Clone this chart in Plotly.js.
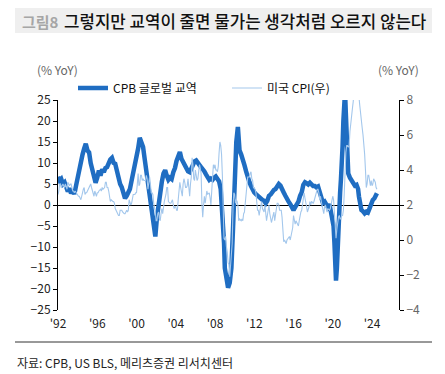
<!DOCTYPE html>
<html>
<head>
<meta charset="utf-8">
<script src="https://cdn.plot.ly/plotly-3.0.1.min.js"></script>
<style>
html,body{margin:0;padding:0;background:#fff;}
#chart{width:445px;height:374px;}
</style>
</head>
<body>
<div id="chart"></div>
<script>
// ---------------- DATA ----------------
// CPB world trade volume, % YoY (left axis), decimal-year dates
var cpbDates = [
1992.00,1992.17,1992.33,1992.50,1992.67,1992.83,
1993.00,1993.17,1993.33,1993.50,1993.67,1993.83,
1994.00,1994.17,1994.33,1994.50,1994.67,1994.83,
1995.00,1995.17,1995.33,1995.50,1995.67,1995.83,
1996.00,1996.17,1996.33,1996.50,1996.67,1996.83,
1997.00,1997.17,1997.33,1997.50,1997.67,1997.83,
1998.00,1998.17,1998.33,1998.50,1998.67,1998.83,
1999.00,1999.17,1999.33,1999.50,1999.67,1999.83,
2000.00,2000.17,2000.33,2000.50,2000.67,2000.83,
2001.00,2001.17,2001.33,2001.50,2001.67,2001.83,2001.92,
2002.08,2002.25,2002.42,2002.58,2002.75,2002.92,
2003.08,2003.25,2003.42,2003.58,2003.75,2003.92,
2004.08,2004.25,2004.42,2004.58,2004.75,2004.92,
2005.08,2005.25,2005.42,2005.58,2005.75,2005.92,
2006.08,2006.25,2006.42,2006.58,2006.75,2006.92,
2007.08,2007.25,2007.42,2007.58,2007.75,2007.92,
2008.08,2008.25,2008.42,2008.58,2008.75,2008.92,
2009.00,2009.17,2009.33,2009.50,2009.67,2009.83,
2010.00,2010.17,2010.33,2010.50,2010.67,2010.83,
2011.00,2011.17,2011.33,2011.50,2011.67,2011.83,
2012.00,2012.17,2012.33,2012.50,2012.67,2012.83,
2013.00,2013.17,2013.33,2013.50,2013.67,2013.83,
2014.00,2014.17,2014.33,2014.50,2014.67,2014.83,
2015.00,2015.17,2015.33,2015.50,2015.67,2015.83,
2016.00,2016.17,2016.33,2016.50,2016.67,2016.83,
2017.00,2017.17,2017.33,2017.50,2017.67,2017.83,
2018.00,2018.17,2018.33,2018.50,2018.67,2018.83,
2019.00,2019.17,2019.33,2019.50,2019.67,2019.83,
2020.00,2020.08,2020.17,2020.25,2020.33,2020.42,2020.50,2020.58,2020.67,2020.75,2020.83,2020.92,
2021.00,2021.08,2021.17,2021.25,2021.33,2021.42,2021.50,2021.58,2021.75,2021.92,
2022.08,2022.25,2022.42,2022.58,2022.67,2022.75,2022.92,
2023.08,2023.25,2023.42,2023.58,2023.75,2023.92,
2024.08,2024.25,2024.42,2024.50
];
var cpbTrade = [
6.7,5.8,6.2,5.0,5.4,4.2,
3.2,4.0,2.8,3.4,2.6,4.5,
6.5,9.0,11.0,12.0,13.5,14.6,
13.0,12.5,10.0,8.0,7.0,5.3,
6.5,8.2,7.0,8.5,7.8,8.8,
9.0,10.0,10.8,11.2,10.0,9.8,
8.0,6.5,5.0,4.2,2.5,1.6,
2.2,3.0,3.8,5.8,7.5,9.0,
11.0,13.5,16.0,15.0,13.8,11.0,
8.0,4.5,1.0,-1.5,-3.5,-6.0,-7.5,
-3.0,0.0,4.0,5.5,7.5,8.3,
7.0,6.0,6.5,6.2,7.8,8.8,
10.5,12.0,12.6,11.0,10.2,9.5,
8.5,8.0,7.8,8.8,9.5,10.4,
10.6,9.8,9.5,9.0,8.6,8.0,
7.3,6.5,6.0,6.3,6.0,6.5,
6.8,6.2,5.6,3.8,-1.0,-9.0,
-15.0,-18.0,-19.7,-18.5,-15.0,-6.0,
8.0,15.0,18.6,13.0,12.0,11.0,
9.5,8.0,6.5,5.5,4.5,3.4,
3.0,2.6,2.2,1.8,1.4,1.2,
1.0,0.4,1.0,2.2,2.5,3.2,
3.6,3.8,4.5,5.0,4.6,4.0,
3.0,2.2,1.2,0.8,0.2,-0.5,
-1.2,-0.5,0.0,0.8,2.2,3.0,
4.8,5.4,5.2,4.9,5.3,4.8,
4.5,4.5,4.2,4.4,3.0,1.5,
0.5,0.8,0.0,-0.5,0.2,-2.5,
-3.5,-5.0,-9.0,-14.0,-18.0,-15.0,-9.0,-4.0,0.5,3.0,6.0,9.0,
14.0,20.0,27.0,27.0,22.0,14.0,9.0,7.5,6.5,5.8,
5.2,4.6,4.8,3.8,2.0,0.8,-1.2,
-1.5,-2.0,-1.6,-1.8,-0.8,0.5,
1.2,1.6,2.4,2.8
];

// US CPI, % YoY (right axis), monthly from Jan 1992
var cpiStart = 1992;
var usCpi = [
2.6,2.8,3.2,3.2,3.0,3.1,3.2,3.1,3.0,3.2,3.0,2.9,   // 1992
3.3,3.2,3.1,3.2,3.2,3.0,2.8,2.8,2.7,2.8,2.7,2.7,   // 1993
2.5,2.5,2.5,2.4,2.3,2.5,2.8,2.9,3.0,2.6,2.7,2.7,   // 1994
2.8,2.9,2.9,3.1,3.2,3.0,2.8,2.6,2.5,2.8,2.6,2.5,   // 1995
2.7,2.7,2.8,2.9,2.9,2.8,3.0,2.9,3.0,3.0,3.3,3.3,   // 1996
3.0,3.0,2.8,2.5,2.2,2.3,2.2,2.2,2.2,2.1,1.8,1.7,   // 1997
1.6,1.4,1.4,1.4,1.7,1.7,1.7,1.6,1.5,1.5,1.5,1.6,   // 1998
1.7,1.6,1.7,2.3,2.1,2.0,2.1,2.3,2.6,2.6,2.6,2.7,   // 1999
2.7,3.2,3.8,3.1,3.2,3.7,3.7,3.4,3.5,3.4,3.4,3.4,   // 2000
3.7,3.5,2.9,3.3,3.6,3.2,2.7,2.7,2.6,2.1,1.9,1.6,   // 2001
1.1,1.1,1.5,1.6,1.2,1.1,1.5,1.8,1.5,2.0,2.2,2.4,   // 2002
2.6,3.0,3.0,2.2,2.1,2.1,2.1,2.2,2.3,2.0,1.8,1.9,   // 2003
1.9,1.7,1.7,2.3,3.1,3.3,3.0,2.7,2.5,3.2,3.5,3.3,   // 2004
3.0,3.0,3.1,3.5,2.8,2.5,3.2,3.6,4.7,4.3,3.5,3.4,   // 2005
4.0,3.6,3.4,3.5,4.2,4.3,4.1,3.8,2.1,1.3,2.0,2.5,   // 2006
2.1,2.4,2.8,2.6,2.7,2.7,2.4,2.0,2.8,3.5,4.3,4.1,   // 2007
4.3,4.0,4.0,3.9,4.2,5.0,5.6,5.4,4.9,3.7,1.1,0.1,   // 2008
0.0,0.2,-0.4,-0.7,-1.3,-1.4,-2.1,-1.5,-1.3,-0.2,1.8,2.7, // 2009
2.6,2.1,2.3,2.2,2.0,1.1,1.2,1.1,1.1,1.2,1.1,1.5,   // 2010
1.6,2.1,2.7,3.2,3.6,3.6,3.6,3.8,3.9,3.5,3.4,3.0,   // 2011
2.9,2.9,2.7,2.3,1.7,1.7,1.4,1.7,2.0,2.2,1.8,1.7,   // 2012
1.6,2.0,1.5,1.1,1.4,1.8,2.0,1.5,1.2,1.0,1.2,1.5,   // 2013
1.6,1.1,1.5,2.0,2.1,2.1,2.0,1.7,1.7,1.7,1.3,0.8,   // 2014
-0.1,0.0,-0.1,-0.2,0.0,0.1,0.2,0.2,0.0,0.2,0.5,0.7, // 2015
1.4,1.0,0.9,1.1,1.0,1.0,0.8,1.1,1.5,1.6,1.7,2.1,   // 2016
2.5,2.7,2.4,2.2,1.9,1.6,1.7,1.9,2.2,2.0,2.2,2.1,   // 2017
2.1,2.2,2.4,2.5,2.8,2.9,2.9,2.7,2.3,2.5,2.2,1.9,   // 2018
1.6,1.5,1.9,2.0,1.8,1.6,1.8,1.7,1.7,1.8,2.1,2.3,   // 2019
2.5,2.3,1.5,0.3,0.1,0.6,1.0,1.3,1.4,1.2,1.2,1.4,   // 2020
1.4,1.7,2.6,4.2,5.0,5.4,5.4,5.3,5.4,6.2,6.8,7.0,   // 2021
7.5,7.9,8.5,8.3,8.6,9.1,8.5,8.3,8.2,7.7,7.1,6.5,   // 2022
6.4,6.0,5.0,4.9,4.0,3.0,3.2,3.7,3.7,3.2,3.1,3.4,   // 2023
3.1,3.2,3.5,3.4,3.3,3.0,2.9                        // 2024
];
var cpiDates = usCpi.map(function(v,i){ return cpiStart + i/12; });

var xTickVals = [1992,1996,2000,2004,2008,2012,2016,2020,2024];
var xTickText = ["'92","'96","'00","'04","'08","'12","'16","'20","'24"];

var seriesNames = ['CPB 글로벌 교역','미국 CPI(우)'];
var titleLabel = '그림8';
var titleText = '그렇지만 교역이 줄면 물가는 생각처럼 오르지 않는다';
var unitLabel = '(% YoY)';
var sourceText = '자료: CPB, US BLS, 메리츠증권 리서치센터';

// ---------------- CHART ----------------
var FONT = '"Noto Sans CJK KR", "Noto Sans", sans-serif';
var L = 58, R = 399, T = 100, B = 310;
function px(x){ return (x - L) / (R - L); }
function py(y){ return (B - y) / (B - T); }

var traces = [
  {x: cpbDates, y: cpbTrade, name: seriesNames[0], type: 'scatter', mode: 'lines',
   line: {color: '#1f6dc2', width: 4.5}, xaxis: 'x', yaxis: 'y'},
  {x: cpiDates, y: usCpi, name: seriesNames[1], type: 'scatter', mode: 'lines',
   line: {color: '#a3c7ec', width: 1.1}, xaxis: 'x', yaxis: 'y2'}
];

var layout = {
  width: 445, height: 374,
  margin: {l: L, r: 445 - R, t: T, b: 374 - B, pad: 0},
  paper_bgcolor: '#ffffff', plot_bgcolor: '#ffffff',
  font: {family: FONT, size: 12, color: '#222'},
  showlegend: true,
  legend: {orientation: 'h', x: px(73), y: py(88), xanchor: 'left', yanchor: 'middle',
           font: {family: FONT, size: 12, color: '#111'}, bgcolor: 'rgba(0,0,0,0)',
           itemwidth: 30, entrywidth: 109, traceorder: 'normal'},
  xaxis: {range: [1992, 2026.75], tickmode: 'array', tickvals: xTickVals, ticktext: xTickText,
          showline: false, ticks: '', showgrid: false, zeroline: false, ticklabelstandoff: 5,
          tickfont: {family: FONT, size: 12, color: '#222'}},
  xaxis2: {overlaying: 'x', anchor: 'free', position: 0.5, range: [1992, 2026.75],
           tickmode: 'array', tickvals: xTickVals, showticklabels: false,
           ticks: 'outside', ticklen: 4, tickcolor: '#000', tickwidth: 1,
           showline: false, showgrid: false, zeroline: false},
  yaxis: {range: [-25, 25], dtick: 5, tick0: 0, showline: true, linecolor: '#000', linewidth: 1,
          ticks: 'outside', ticklen: 4, tickcolor: '#000', showgrid: false,
          zeroline: true, zerolinecolor: '#000', zerolinewidth: 1,
          tickfont: {family: FONT, size: 12, color: '#222'}},
  yaxis2: {range: [-4, 8], dtick: 2, tick0: 0, overlaying: 'y', side: 'right', anchor: 'x',
           showline: true, linecolor: '#000', linewidth: 1,
           ticks: 'outside', ticklen: 4, tickcolor: '#000', showgrid: false, zeroline: false,
           tickfont: {family: FONT, size: 12, color: '#666'}},
  shapes: [
    {type: 'rect', xref: 'paper', yref: 'paper', x0: px(15), x1: px(432), y0: py(33), y1: py(8),
     fillcolor: '#efefef', line: {width: 0}, layer: 'below'},
    {type: 'line', xref: 'paper', yref: 'paper', x0: px(15), x1: px(432), y0: py(342), y1: py(342),
     line: {color: '#333', width: 1}}
  ],
  annotations: [
    {text: titleLabel, xref: 'paper', yref: 'paper', x: px(20), y: py(21), xanchor: 'left', yanchor: 'middle',
     showarrow: false, font: {family: FONT, size: 15, color: '#a6a6a6', weight: 'bold'}},
    {text: titleText, xref: 'paper', yref: 'paper', x: px(62), y: py(21), xanchor: 'left', yanchor: 'middle',
     showarrow: false, font: {family: FONT, size: 16.8, color: '#111', weight: 500}},
    {text: unitLabel, xref: 'paper', yref: 'paper', x: px(57), y: py(69), xanchor: 'center', yanchor: 'middle',
     showarrow: false, font: {family: FONT, size: 12, color: '#666'}},
    {text: unitLabel, xref: 'paper', yref: 'paper', x: px(398), y: py(69), xanchor: 'center', yanchor: 'middle',
     showarrow: false, font: {family: FONT, size: 12, color: '#666'}},
    {text: sourceText, xref: 'paper', yref: 'paper', x: px(15), y: py(362), xanchor: 'left', yanchor: 'middle',
     showarrow: false, font: {family: FONT, size: 12, color: '#222'}}
  ]
};

Plotly.newPlot('chart', traces, layout, {displayModeBar: false, staticPlot: true});
</script>
</body>
</html>
